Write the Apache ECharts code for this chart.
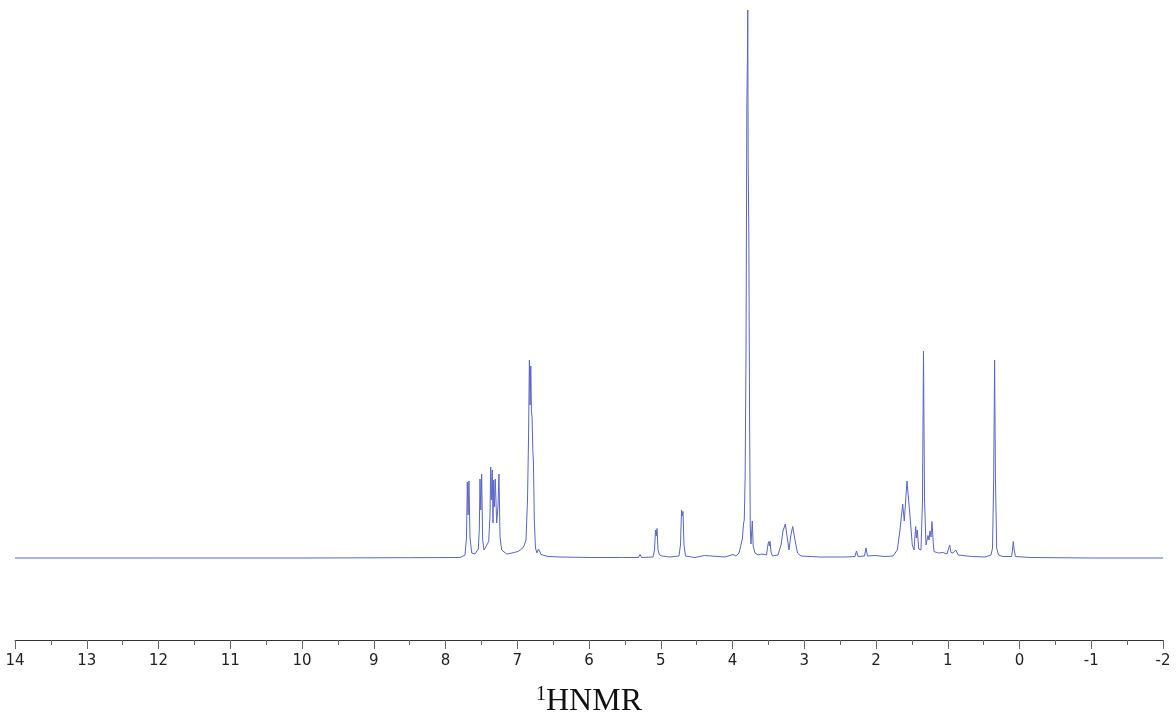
<!DOCTYPE html>
<html>
<head>
<meta charset="utf-8">
<script src="https://cdn.jsdelivr.net/npm/echarts@6/dist/echarts.min.js"></script>
<style>
html,body{margin:0;padding:0;background:#fff;}
#chart{width:1176px;height:723px;}
</style>
</head>
<body>
<div id="chart"></div>
<script>
// Chemical shift (ppm), high to low
const shiftPpm = [
  14.000, 12.000, 10.000, 8.500,
  7.798, 7.728, 7.707, 7.696, 7.685, 7.673, 7.659, 7.635, 7.589, 7.543, 7.529, 7.519, 7.508, 7.496, 7.482, 7.463,
  7.436, 7.418, 7.398, 7.380, 7.370, 7.360, 7.348, 7.338, 7.328, 7.319, 7.306, 7.287, 7.268, 7.255, 7.240, 7.217,
  7.147, 7.073, 6.990, 6.938, 6.906, 6.878, 6.857, 6.843, 6.831, 6.821, 6.811, 6.803, 6.793, 6.783, 6.774, 6.762,
  6.746, 6.725, 6.704, 6.683, 6.669, 6.571, 6.404, 5.986,
  5.575, 5.554, 5.533, 5.310, 5.289, 5.268,
  5.108, 5.087, 5.073, 5.063, 5.052, 5.038, 5.017, 4.983, 4.871,
  4.746, 4.725, 4.710, 4.700, 4.690, 4.676, 4.655, 4.523, 4.393, 4.369, 4.105,
  3.993, 3.951, 3.909, 3.882, 3.861, 3.847, 3.836, 3.824, 3.812, 3.800, 3.792, 3.787, 3.782, 3.772, 3.762, 3.752, 3.742,
  3.724, 3.712, 3.687, 3.645, 3.589, 3.526, 3.505, 3.494, 3.486, 3.477, 3.463, 3.443,
  3.366, 3.324, 3.296, 3.264, 3.236, 3.213, 3.188, 3.161, 3.129, 3.094, 3.045, 2.781,
  2.432, 2.293, 2.272, 2.251, 2.161, 2.139, 2.119, 2.014, 1.875,
  1.763, 1.703, 1.666, 1.628, 1.606, 1.568, 1.526, 1.494, 1.470, 1.447, 1.437, 1.425, 1.404,
  1.373, 1.352, 1.338, 1.324, 1.303, 1.275, 1.261, 1.247, 1.233, 1.220, 1.206, 1.192,
  1.132, 1.062, 1.011, 0.973, 0.955, 0.927, 0.890, 0.853, 0.667,
  0.481, 0.397, 0.376, 0.360, 0.347, 0.335, 0.318, 0.293, 0.230,
  0.111, 0.098, 0.087, 0.074, 0.056, -0.146, -1.000, -2.000
];
// Signal intensity (arbitrary units), same order as shiftPpm
const intensity = [
  0, 0, 0, 0.3,
  0.5, 3, 21, 76, 43, 77, 21, 5, 4, 9, 28, 79, 48, 84, 18, 8,
  11.5, 9.5, 16.5, 42, 91, 58, 88, 35, 78, 51, 79, 35, 52, 84, 21, 8,
  4, 5, 6.5, 9, 12, 18, 58, 118, 198, 153, 192, 148, 140, 108, 95, 38,
  10, 5, 9, 6, 3.5, 1.5, 1, 0.5,
  0.5, 2.5, 0.5, 0.5, 3.5, 0.5,
  1, 8, 28, 22, 29.5, 8, 3, 2, 1,
  2, 13, 48, 42, 46.5, 13, 2, 0.5, 2.5, 0.5, 1,
  3.5, 2, 5, 13, 20, 34, 38, 80, 200, 454, 500, 548, 400, 321, 140, 30, 14,
  37, 12, 5, 3, 4, 3, 14, 16.5, 12, 16.5, 6, 2,
  3, 13, 27, 34, 20, 8, 22, 31.5, 18, 5, 2, 1,
  1, 1.5, 7, 1.5, 2, 10, 2, 2.5, 1.5,
  2, 8, 28, 54, 37, 77, 42, 13, 8, 31.5, 20, 28, 9,
  8, 58, 207, 58, 13, 22.5, 18, 27, 21, 36.5, 20, 6.5,
  5, 5.5, 4, 13, 5.5, 5, 8, 3, 1.5,
  1, 3, 10, 78, 198, 78, 10, 3, 1.5,
  1.5, 8, 16.5, 8, 1.5, 0.5, 0, 0
];
const axisMin = -2;
const axisMax = 14;
const axisTitle = '{sup|1}{main|HNMR}';

const spectrum = shiftPpm.map((p, i) => [p, intensity[i]]);

const chart = echarts.init(document.getElementById('chart'), null, {renderer: 'canvas'});
chart.setOption({
  animation: false,
  backgroundColor: '#ffffff',
  grid: {left: 15, right: 13, top: 10, bottom: 83, containLabel: false, outerBoundsMode: 'none'},
  xAxis: {
    type: 'value',
    inverse: true,
    min: axisMin,
    max: axisMax,
    interval: 1,
    axisLine: {show: true, onZero: false, lineStyle: {color: '#333333', width: 1}},
    axisTick: {show: true, length: 9, lineStyle: {color: '#666666', width: 1}},
    minorTick: {show: true, splitNumber: 2, length: 5, lineStyle: {color: '#666666', width: 1}},
    splitLine: {show: false},
    axisLabel: {
      margin: 14,
      color: '#222222',
      fontFamily: 'DejaVu Sans',
      fontSize: 15
    },
    name: axisTitle,
    nameLocation: 'middle',
    nameGap: 45,
    nameTextStyle: {
      fontFamily: 'Liberation Serif',
      color: '#111111',
      rich: {
        sup: {fontFamily: 'Liberation Serif', fontSize: 20, color: '#111111', padding: [0, 0, 14, 0]},
        main: {fontFamily: 'Liberation Serif', fontSize: 32, color: '#111111'}
      }
    }
  },
  yAxis: {
    type: 'value',
    min: -82,
    max: 548,
    show: false
  },
  series: [{
    type: 'line',
    data: spectrum,
    showSymbol: false,
    symbol: 'none',
    smooth: false,
    lineStyle: {color: '#5a66c6', width: 1},
    emphasis: {disabled: true}
  }]
});
</script>
</body>
</html>
